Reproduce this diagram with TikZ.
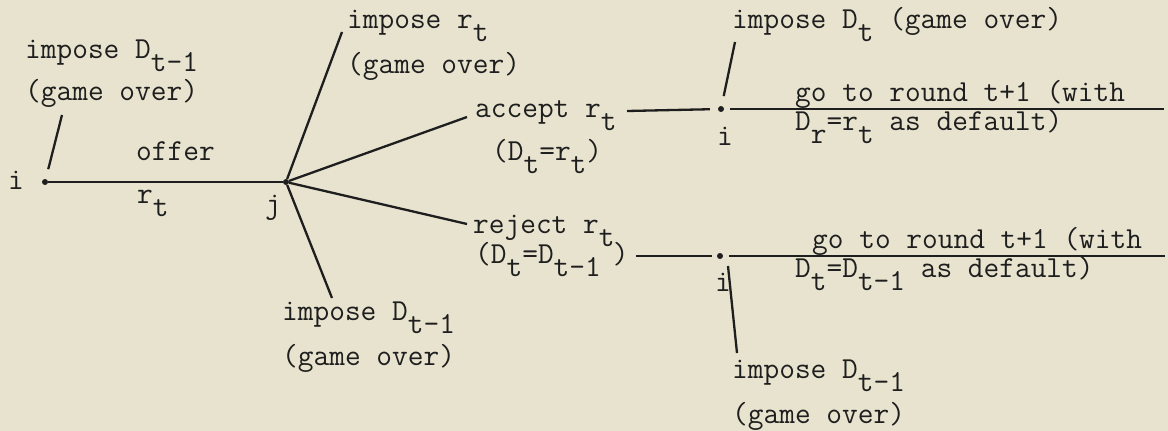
\documentclass[tikz,border=0pt]{standalone}
\usepackage{fontspec}
\newcommand{\dn}[1]{\raisebox{-13.5pt}{#1}}
\newcommand{\twfont}{\ttfamily\addfontfeatures{FakeBold=1.6}\fontsize{30.5}{34}\selectfont}
\definecolor{paper}{HTML}{E7E3CE}
\definecolor{ink}{HTML}{1E1E1E}
\begin{document}
\begin{tikzpicture}[x=1pt,y=-1pt,
  lab/.style={anchor=base west,inner sep=0pt,font=\twfont,text=ink},
  dot/.style={circle,fill=ink,inner sep=0pt,minimum size=6pt},
  edge/.style={draw=ink,line width=2.3pt}]
\fill[paper] (0,0) rectangle (1168,431);
\useasboundingbox (0,0) rectangle (1168,431);
% decision points
\node[dot] (i1) at (45,182) {};
\node[dot] (j) at (286,182) {};
\node[dot] (i2) at (721,109) {};
\node[dot] (i3) at (720,256) {};
% labels
\node[lab] (t1a) at (25,58) {impose D\dn{t-1}};
\node[lab] (t1b) at (25,100) {(game over)};
\node[lab] (li1) at (8,189) {i};
\node[lab] (offer) at (136,160) {offer};
\node[lab] (rt) at (137,203) {r\dn{t}};
\node[lab] (lj) at (265,213) {j};
\node[lab] (t2a) at (347,28) {impose r\dn{t}};
\node[lab] (t2b) at (347,73) {(game over)};
\node[lab] (acc) at (475,117) {accept r\dn{t}};
\node[lab] (accb) at (492,160) {(D\dn{t}=r\dn{t})};
\node[lab] (rej) at (473,233) {reject r\dn{t}};
\node[lab] (rejb) at (475,263) {(D\dn{t}=D\dn{t-1}\hspace{12pt})};
\node[lab] (t3a) at (282,320) {impose D\dn{t-1}};
\node[lab] (t3b) at (282,365) {(game over)};
\node[lab] (t4) at (732,28) {impose D\dn{t} (game over)};
\node[lab] (li2) at (717,145) {i};
\node[lab] (go1) at (795,101) {go to round t+1 (with};
\node[lab] (def1) at (795,130) {D\dn{r}=r\dn{t} as default)};
\node[lab] (go2) at (812,248) {go to round t+1 (with};
\node[lab] (def2) at (795,277) {D\dn{t}=D\dn{t-1} as default)};
\node[lab] (li3) at (715,291) {i};
\node[lab] (t5a) at (732,378) {impose D\dn{t-1}};
\node[lab] (t5b) at (732,423) {(game over)};
% connector ends
\coordinate (e1) at (62,115);
\coordinate (e2) at (342,32);
\coordinate (e3) at (467,117);
\coordinate (e4) at (467,224);
\coordinate (e5) at (332,298);
\coordinate (a2) at (627,111);
\coordinate (e6) at (1164,109);
\coordinate (e7) at (735,42);
\coordinate (a3) at (636,256);
\coordinate (e8) at (1165,256);
\coordinate (s9) at (728,266);
\coordinate (e9) at (737,353);
% connectors
\draw[edge] (i1) -- (j);
\draw[edge,shorten <=10pt] (i1) -- (e1);
\draw[edge] (j) -- (e2);
\draw[edge] (j) -- (e3);
\draw[edge] (j) -- (e4);
\draw[edge] (j) -- (e5);
\draw[edge,shorten >=8pt] (a2) -- (i2);
\draw[edge,shorten <=6pt] (i2) -- (e6);
\draw[edge,shorten <=10pt] (i2) -- (e7);
\draw[edge,shorten >=5pt] (a3) -- (i3);
\draw[edge,shorten <=6pt] (i3) -- (e8);
\draw[edge] (s9) -- (e9);
\end{tikzpicture}
\end{document}
